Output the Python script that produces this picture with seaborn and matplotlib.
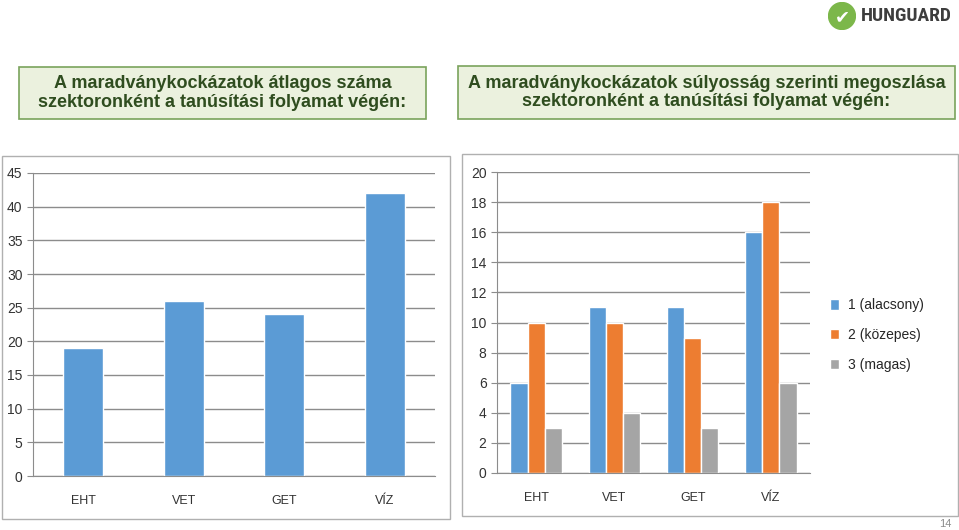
import matplotlib
matplotlib.use('Agg')
import matplotlib.pyplot as plt
import matplotlib.patches as patches
import seaborn as sns
import pandas as pd

# adatok
szektorok = ['EHT', 'VET', 'GET', 'VÍZ']
atlag = [19, 26, 24, 42]

szintek = ['1 (alacsony)', '2 (közepes)', '3 (magas)']
alacsony = [6, 11, 11, 16]
kozepes = [10, 10, 9, 18]
magas = [3, 4, 3, 6]

cim_bal = 'A maradványkockázatok átlagos száma\nszektoronként a tanúsítási folyamat végén:'
cim_jobb = 'A maradványkockázatok súlyosság szerinti megoszlása\nszektoronként a tanúsítási folyamat végén:'

sns.set_style('white')
plt.rcParams['font.family'] = ['Liberation Sans', 'DejaVu Sans']

W, H = 959, 530
fig = plt.figure(figsize=(W / 100, H / 100), dpi=100)


def fx(x):
    return x / W


def fy(y):
    return 1 - y / H


# cimdobozok
for (x0, y0, x1, y1, txt) in [(19, 67, 426, 119, cim_bal), (458, 66, 955, 119, cim_jobb)]:
    fig.patches.append(patches.Rectangle((fx(x0), fy(y1)), fx(x1 - x0), (y1 - y0) / H,
                                         transform=fig.transFigure, facecolor='#ebf1de',
                                         edgecolor='#7aa35c', lw=1.2))
    fig.text(fx((x0 + x1) / 2), fy((y0 + y1) / 2), txt, ha='center', va='center',
             fontsize=13, fontweight='bold', color='#2f4d1f', linespacing=1.1)

# diagram keretek
for (x0, y0, x1, y1) in [(2, 156, 450, 519), (462, 154, 958, 516)]:
    fig.patches.append(patches.Rectangle((fx(x0), fy(y1)), fx(x1 - x0), (y1 - y0) / H,
                                         transform=fig.transFigure, facecolor='none',
                                         edgecolor='#b0b0b0', lw=1))

# logo
lax = fig.add_axes([fx(828), fy(30), fx(28), 28 / H])
lax.set_xlim(0, 1)
lax.set_ylim(0, 1)
lax.set_aspect('equal')
lax.axis('off')
lax.add_patch(patches.Circle((0.5, 0.5), 0.48, color='#7cb74a'))
lax.text(0.52, 0.46, '✔', ha='center', va='center', color='white', fontsize=13,
         family='DejaVu Sans', fontweight='bold')
fig.text(fx(861), fy(16), 'HUNGUARD', ha='left', va='center', fontsize=14,
         fontweight='bold', color='#3d3d3d', family=['Roboto Condensed', 'Roboto'])

fig.text(fx(951), fy(524), '14', ha='right', va='center', fontsize=8, color='#8c8c8c')


def formaz(ax, ymax, step):
    ax.set_ylim(0, ymax)
    ax.set_yticks(range(0, ymax + 1, step))
    ax.set_xlim(-0.5, 3.5)
    ax.yaxis.grid(True, color='#8c8c8c', lw=1)
    ax.set_axisbelow(True)
    for s in ['top', 'right']:
        ax.spines[s].set_visible(False)
    ax.spines['left'].set_color('#8c8c8c')
    ax.spines['bottom'].set_color('#8c8c8c')
    ax.set_xticks([-0.5, 0.5, 1.5, 2.5, 3.5], minor=True)
    ax.tick_params(axis='x', which='minor', length=5, color='#8c8c8c', direction='out')
    ax.tick_params(axis='x', which='major', length=0, pad=14, labelsize=9, labelcolor='#333333')
    ax.tick_params(axis='y', length=4, color='#8c8c8c', direction='out', labelsize=10,
                   labelcolor='#333333', left=True)
    ax.set_xlabel('')
    ax.set_ylabel('')


# bal diagram
ax1 = fig.add_axes([fx(33), fy(476), fx(402), 303 / H])
df1 = pd.DataFrame({'szektor': szektorok, 'db': atlag})
sns.barplot(df1, x='szektor', y='db', color='#5b9bd5', width=0.4, saturation=1, ax=ax1)
formaz(ax1, 45, 5)

# jobb diagram
ax2 = fig.add_axes([fx(497), fy(473), fx(313), 301 / H])
df2 = pd.DataFrame({
    'szektor': szektorok * 3,
    'szint': [szintek[0]] * 4 + [szintek[1]] * 4 + [szintek[2]] * 4,
    'db': alacsony + kozepes + magas,
})
sns.barplot(df2, x='szektor', y='db', hue='szint', hue_order=szintek,
            palette=['#5b9bd5', '#ed7d31', '#a5a5a5'], width=0.66, saturation=1, ax=ax2)
formaz(ax2, 20, 2)
ax2.legend(loc='center left', bbox_to_anchor=((817 - 497) / 313, (473 - 335) / 301),
           frameon=False, fontsize=10, handlelength=0.65, handleheight=0.8,
           labelspacing=1.15, handletextpad=0.65)

fig.savefig('out.png', dpi=100)
